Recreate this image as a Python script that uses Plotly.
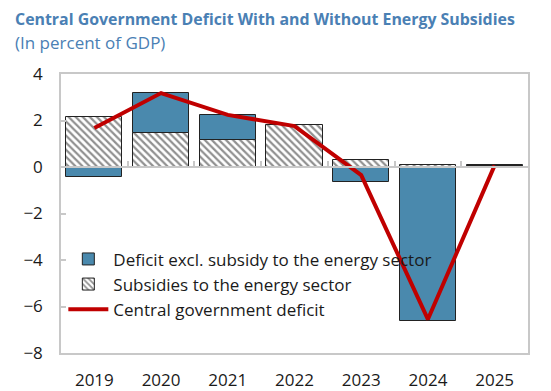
import plotly.graph_objects as go

# Central government balance components, percent of GDP
years = ["2019", "2020", "2021", "2022", "2023", "2024", "2025"]
subsidies = [2.13, 1.46, 1.16, 1.80, 0.28, 0.08, 0.06]
deficit_excl = [-0.45, 1.72, 1.08, -0.04, -0.63, -6.63, 0.01]
total_deficit = [1.68, 3.18, 2.24, 1.76, -0.35, -6.55, 0.07]
y_ticks = [-8, -6, -4, -2, 0, 2, 4]

x_pos = list(range(len(years)))
FONT = "Open Sans"
TITLE_BLUE = "#4a80b4"
BAR_BLUE = "#4a89ad"
GRID_GRAY = "#c8c8c8"

PLOT_W = 551 - 61 - 23
PLOT_H = 391 - 74 - 38

fig = go.Figure()

fig.add_trace(go.Bar(
    x=x_pos, y=subsidies, name="Subsidies to the energy sector",
    width=0.84, legendrank=2,
    marker=dict(color="white", line=dict(color="#222222", width=1),
                pattern=dict(shape="\\", size=5, solidity=0.45,
                             fgcolor="#222222", bgcolor="white")),
))
fig.add_trace(go.Bar(
    x=x_pos, y=deficit_excl, name="Deficit excl. subsidy to the energy sector",
    width=0.84, legendrank=1,
    marker=dict(color=BAR_BLUE, line=dict(color="#222222", width=1)),
))
fig.add_trace(go.Scatter(
    x=x_pos, y=total_deficit, name="Central government deficit",
    mode="lines", line=dict(color="#c00000", width=4), legendrank=3,
    xaxis="x2",
))

fig.update_layout(
    width=551, height=391,
    margin=dict(l=61, r=23, t=74, b=38, autoexpand=False),
    paper_bgcolor="white", plot_bgcolor="white",
    barmode="relative", bargap=0,
    font=dict(family=FONT, size=17, color="#1a1a1a"),
    showlegend=True,
    legend=dict(x=0.005, y=0.40, xanchor="left", yanchor="top",
                bgcolor="rgba(0,0,0,0)", font=dict(size=17), tracegroupgap=1,
                itemwidth=40),
    xaxis=dict(range=[-0.5, 6.5], tickvals=x_pos, ticktext=years,
               showline=True, mirror=True, linecolor=GRID_GRAY, linewidth=1.5,
               ticks="", showgrid=False, zeroline=False, ticklabelstandoff=11,
               automargin=False, tickfont=dict(size=17)),
    xaxis2=dict(range=[-0.5, 6.5], overlaying="x", anchor="free",
                position=8 / 12, showticklabels=False, showgrid=False,
                zeroline=False, showline=True, linecolor=GRID_GRAY, linewidth=1.5,
                ticks="inside", ticklen=5, tickcolor=GRID_GRAY, tickwidth=1.5,
                automargin=False, tickvals=[i + 0.5 for i in x_pos[:-1]]),
    yaxis=dict(range=[-8, 4], tickvals=y_ticks, showline=True, mirror=True,
               linecolor=GRID_GRAY, linewidth=1.5, ticks="inside", ticklen=5,
               tickcolor=GRID_GRAY, tickwidth=1.5, showgrid=False, zeroline=False,
               ticklabelstandoff=13, automargin=False, tickfont=dict(size=17)),
    annotations=[
        dict(text="<b>Central Government Deficit With and Without Energy Subsidies</b>",
             xref="paper", yref="paper", x=-(61 - 13) / PLOT_W, y=1 + (74 - 19) / PLOT_H,
             xanchor="left", yanchor="middle", showarrow=False,
             font=dict(family=FONT, size=15.9, color=TITLE_BLUE)),
        dict(text="(In percent of GDP)",
             xref="paper", yref="paper", x=-(61 - 13) / PLOT_W, y=1 + (74 - 42) / PLOT_H,
             xanchor="left", yanchor="middle", showarrow=False,
             font=dict(family=FONT, size=17, color=TITLE_BLUE)),
    ],
)

fig.write_html("out.html")
